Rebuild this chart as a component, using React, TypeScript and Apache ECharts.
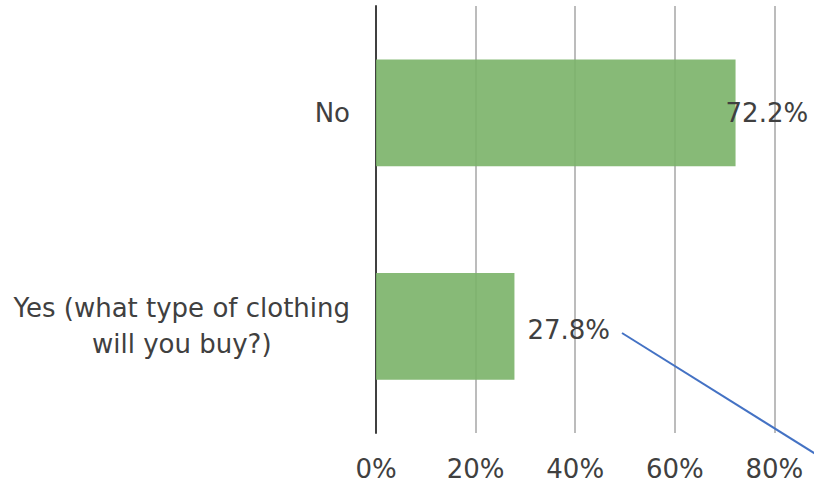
import React, { useEffect, useRef } from "react";
import * as echarts from "echarts";

const categories: string[] = ["No", "Yes (what type of clothing\nwill you buy?)"];
const values: number[] = [72.2, 27.8];
const labelOffsets: number[][] = [[-10, 0], [13, 4]];
const axisMax = 100;
const axisInterval = 20;

export default function App() {
  const ref = useRef<HTMLDivElement>(null);
  useEffect(() => {
    if (!ref.current) return;
    const chart = echarts.init(ref.current, undefined, { renderer: "svg" });
    const font = "DejaVu Sans";
    const textColor = "#404040";
    chart.setOption({
      animation: false,
      backgroundColor: "#ffffff",
      grid: {
        left: 376,
        top: 6,
        bottom: 60,
        right: 0,
        containLabel: false,
        outerBoundsMode: "none",
      },
      xAxis: {
        type: "value",
        min: 0,
        max: axisMax,
        interval: axisInterval,
        axisLine: { show: false },
        axisTick: { show: false },
        splitLine: { show: true, lineStyle: { color: "#a6a6a6", width: 1.5 } },
        axisLabel: {
          formatter: "{value}%",
          showMaxLabel: false,
          fontFamily: font,
          fontSize: 26,
          color: textColor,
          margin: 23,
        },
      },
      yAxis: {
        type: "category",
        data: categories,
        inverse: true,
        axisLine: { show: true, lineStyle: { color: "#404040", width: 2 } },
        axisTick: { show: false },
        splitLine: { show: false },
        axisLabel: {
          margin: 26,
          formatter: (v: string) => `{c|${v}}`,
          rich: {
            c: {
              align: "center",
              fontFamily: font,
              fontSize: 26,
              lineHeight: 36,
              color: textColor,
            },
          },
        },
      },
      series: [
        {
          type: "bar",
          data: values.map((v, i) => ({
            value: v,
            label: { offset: labelOffsets[i] },
          })),
          barCategoryGap: "50%",
          itemStyle: { color: "rgba(122,179,104,0.9)" },
          label: {
            show: true,
            position: "right",
            distance: 0,
            formatter: (p: any) => `${p.value.toFixed(1)}%`,
            fontFamily: font,
            fontSize: 26,
            color: textColor,
          },
        },
      ],
      graphic: [
        {
          type: "line",
          shape: { x1: 622, y1: 333, x2: 830, y2: 463 },
          style: { stroke: "#4472c4", lineWidth: 2 },
          z: 100,
        },
      ],
    });
    return () => chart.dispose();
  }, []);
  return (
    <div style={{ position: "fixed", left: 0, top: 0, width: 814, height: 493, overflow: "hidden", background: "#fff" }}>
      <div ref={ref} style={{ width: 874, height: 493 }} />
    </div>
  );
}
